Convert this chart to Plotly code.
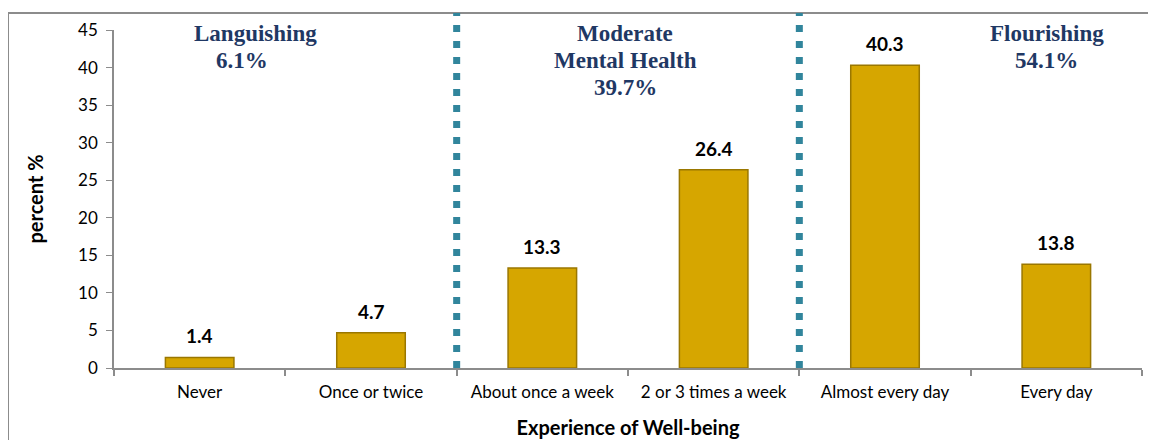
import plotly.graph_objects as go

categories = ["Never", "Once or twice", "About once a week", "2 or 3 times a week", "Almost every day", "Every day"]
values = [1.4, 4.7, 13.3, 26.4, 40.3, 13.8]
value_labels = ["1.4", "4.7", "13.3", "26.4", "40.3", "13.8"]
group_lines = [["Languishing", "6.1%"], ["Moderate", "Mental Health", "39.7%"], ["Flourishing", "54.1%"]]
group_line_x = [[0.323, 0.247], [2.483, 2.483, 2.483], [4.943, 4.94]]
divider_x = [1.5, 3.5]

fig = go.Figure()
fig.add_trace(go.Bar(
    x=list(range(len(categories))), y=values, width=0.4,
    marker=dict(color="#D6A600", line=dict(color="#9A7700", width=1.5)),
    hoverinfo="skip", showlegend=False,
))

for i, (v, t) in enumerate(zip(values, value_labels)):
    fig.add_annotation(x=i, y=v, text=t, showarrow=False, yanchor="bottom", yshift=8,
                       font=dict(family="Lato", size=19, color="#000000", weight="bold"))

# group headings, line spacing ~27px; first line centre ~3px below plot top
plot_h = 338.0
for lines, xs in zip(group_lines, group_line_x):
    for k, (ln, gx) in enumerate(zip(lines, xs)):
        fig.add_annotation(x=gx, y=1.0 - (3 + 27 * k) / plot_h, yref="paper", text=ln,
                           showarrow=False, yanchor="middle",
                           font=dict(family="Liberation Serif", size=23, color="#1F3864", weight="bold"))

for dx in divider_x:
    fig.add_shape(type="line", x0=dx, x1=dx, xref="x", y0=0, y1=1.05, yref="paper",
                  line=dict(color="#31859C", width=7, dash="7px,9px"))

# outer border
fig.add_shape(type="rect", xref="paper", yref="paper", x0=-0.1031, x1=1.0078, y0=-0.26, y1=1.05,
              line=dict(color="#8C8C8C", width=2), fillcolor="rgba(0,0,0,0)", layer="below")

fig.update_layout(
    width=1148, height=432,
    margin=dict(l=106, r=14, t=22, b=72),
    paper_bgcolor="white", plot_bgcolor="white",
    font=dict(family="Lato", size=17, color="#000000"),
)
fig.update_xaxes(
    automargin=False,
    tickmode="array", tickvals=list(range(len(categories))), ticktext=categories,
    range=[-0.5, 5.5], showline=True, linecolor="#8C8C8C", linewidth=1.5,
    ticks="", showgrid=False, ticklabelstandoff=8,
    tickfont=dict(family="Lato", size=17),
    title=dict(text="<b>Experience of Well-being</b>", font=dict(family="Lato", size=20), standoff=20),
    minor=dict(tickvals=[-0.5, 0.5, 1.5, 2.5, 3.5, 4.5, 5.5], ticks="outside",
               ticklen=6, tickcolor="#8C8C8C", tickwidth=1.5, showgrid=False),
)
fig.update_yaxes(
    automargin=False,
    range=[0, 45], dtick=5, showline=True, linecolor="#8C8C8C", linewidth=1.5,
    ticks="outside", ticklen=6, tickcolor="#8C8C8C", showgrid=False, zeroline=False,
    ticklabelstandoff=5,
    tickfont=dict(family="Lato", size=17),
    title=dict(text="<b>percent %</b>", font=dict(family="Lato", size=20), standoff=29),
)

fig.write_html("out.html")
